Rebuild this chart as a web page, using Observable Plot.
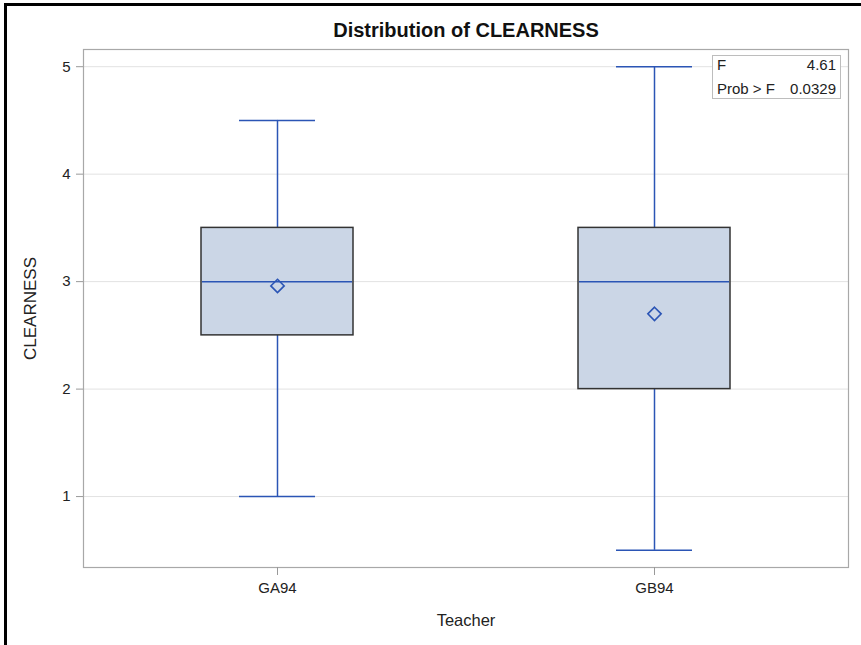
<!DOCTYPE html>
<html>
<head>
<meta charset="utf-8">
<script src="https://cdn.jsdelivr.net/npm/d3@7"></script>
<script src="https://cdn.jsdelivr.net/npm/@observablehq/plot@0.6"></script>
<style>
  html, body { margin: 0; padding: 0; background: #fff; }
  #wrap { position: relative; width: 861px; height: 645px; overflow: hidden; font-family: "Liberation Sans", Arial, sans-serif; }
  #border { position: absolute; left: 4px; top: 3px; width: 900px; height: 700px; border-left: 3px solid #000; border-top: 3px solid #000; pointer-events: none; }
  #inset { position: absolute; left: 712px; top: 55px; width: 127px; height: 42px; border: 1px solid #bdbdbd; background: #fff;
           font-size: 15px; color: #222; box-sizing: content-box; }
  #inset .row { position: absolute; left: 4px; right: 4px; height: 20px; line-height: 20px; }
  #inset .row span.v { position: absolute; right: 0; }
</style>
</head>
<body>
<div id="wrap"></div>
<script>
// ---- data ----
const teachers = ["GA94", "GB94"];
const whiskerLow = [1.0, 0.5];
const q1 = [2.5, 2.0];
const median = [3.0, 3.0];
const q3 = [3.5, 3.5];
const whiskerHigh = [4.5, 5.0];
const means = [2.96, 2.70];
const yTicks = [1, 2, 3, 4, 5];
const statLabels = ["F", "Prob > F"];
const statValues = ["4.61", "0.0329"];
const titleText = "Distribution of CLEARNESS";
const xLabel = "Teacher";
const yLabel = "CLEARNESS";

const rows = teachers.map((t, i) => ({
  teacher: t, lo: whiskerLow[i], q1: q1[i], med: median[i], q3: q3[i], hi: whiskerHigh[i], mean: means[i]
}));

const blue = "#2B55B5";
const font = "'Liberation Sans', Arial, sans-serif";

const chart = Plot.plot({
  width: 861,
  height: 645,
  marginLeft: 83,
  marginRight: 13,
  marginTop: 49,
  marginBottom: 78,
  style: { fontFamily: font, background: "transparent", overflow: "visible" },
  x: { type: "band", domain: teachers, paddingInner: 0.598, paddingOuter: 0.311, label: null },
  y: { domain: [0.34, 5.16], label: null },
  marks: [
    Plot.gridY(yTicks, { stroke: "#e2e2e2", strokeOpacity: 1 }),
    // whiskers
    Plot.ruleX(rows, { x: "teacher", y1: "q3", y2: "hi", stroke: blue, strokeWidth: 1.5 }),
    Plot.ruleX(rows, { x: "teacher", y1: "lo", y2: "q1", stroke: blue, strokeWidth: 1.5 }),
    Plot.tickY(rows, { x: "teacher", y: "hi", stroke: blue, strokeWidth: 1.5, insetLeft: 38, insetRight: 38 }),
    Plot.tickY(rows, { x: "teacher", y: "lo", stroke: blue, strokeWidth: 1.5, insetLeft: 38, insetRight: 38 }),
    // box
    Plot.barY(rows, { x: "teacher", y1: "q1", y2: "q3", fill: "#CBD6E6", stroke: "#333", strokeWidth: 1.5 }),
    Plot.tickY(rows, { x: "teacher", y: "med", stroke: blue, strokeWidth: 1.5, insetLeft: 1, insetRight: 1 }),
    Plot.dot(rows, { x: "teacher", y: "mean", symbol: "diamond2", r: 6, stroke: blue, strokeWidth: 1.6, fill: "none" }),
    Plot.frame({ stroke: "#a8a8a8", strokeWidth: 1.2 }),
    Plot.axisY(yTicks, { tickSize: 7, tickPadding: 6, stroke: "#999", fill: "#222", fontSize: 15, tickFormat: d3.format("d"), label: null }),
    Plot.axisX({ tickSize: 8, tickPadding: 7, stroke: "#999", fill: "#222", fontSize: 15, label: null }),
    Plot.text([yLabel], { frameAnchor: "left", dx: -53, rotate: -90, textAnchor: "middle", lineAnchor: "middle", fontSize: 17, fill: "#222" }),
    Plot.text([xLabel], { frameAnchor: "bottom", dy: 53, textAnchor: "middle", lineAnchor: "middle", fontSize: 16.5, fill: "#222" }),
    Plot.text([titleText], { frameAnchor: "top", dy: -19, lineAnchor: "middle", fontSize: 20, fontWeight: "bold", fill: "#111" })
  ]
});

const wrap = document.getElementById("wrap");
chart.style.position = "absolute";
chart.style.left = "0px";
chart.style.top = "0px";
wrap.appendChild(chart);

const inset = document.createElement("div");
inset.id = "inset";
statLabels.forEach((lab, i) => {
  const r = document.createElement("div");
  r.className = "row";
  r.style.top = (i * 24 - 1) + "px";
  const a = document.createElement("span"); a.textContent = lab;
  const b = document.createElement("span"); b.className = "v"; b.textContent = statValues[i];
  r.appendChild(a); r.appendChild(b);
  inset.appendChild(r);
});
wrap.appendChild(inset);

const border = document.createElement("div");
border.id = "border";
wrap.appendChild(border);
</script>
</body>
</html>
